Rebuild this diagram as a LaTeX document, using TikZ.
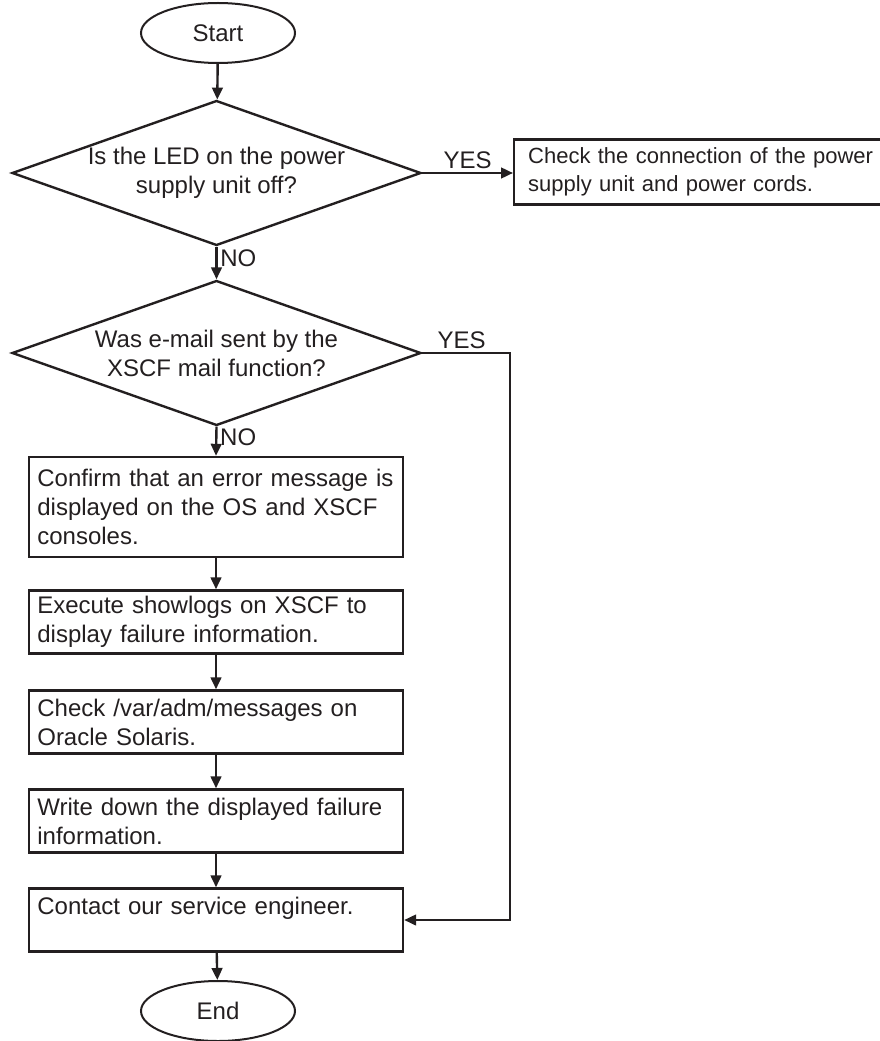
\documentclass[tikz,border=0pt]{standalone}
\usepackage{fontspec}
\setmainfont{Liberation Sans}
\usetikzlibrary{arrows.meta,shapes.geometric}
\definecolor{fcink}{HTML}{231F20}
\tikzset{
  >={Triangle[length=9pt,width=8pt]},
  ftext/.style={font=\fontsize{18}{21.75}\selectfont,text=fcink},
  fterm/.style={ellipse,draw=fcink,line width=1.5pt,ftext,
    minimum width=115.5pt,minimum height=45pt,inner sep=0pt},
  fdecide/.style={diamond,aspect=2.8,draw=fcink,line width=1.8pt,ftext,align=center,
    minimum width=306.75pt,minimum height=108.75pt,inner sep=0pt},
  fbox/.style={rectangle,draw=fcink,line width=1.8pt,ftext,align=left,
    text width=268pt,inner xsep=6.25pt,minimum height=47.25pt},
  flabel/.style={ftext,inner sep=2pt},
  fline/.style={->,draw=fcink,line width=1.8pt}
}

\begin{document}
\begin{tikzpicture}[x=.75pt,y=-.75pt]
  \useasboundingbox (0,0) rectangle (880,1041);

  \node[fterm] (start) at (218,33) {Start};
  \node[fdecide] (ledq) at (216.5,173)
    {Is the LED on the power\\supply unit off?};
  % runs off past the right margin
  \node[fbox,font=\fontsize{16.5}{21}\selectfont,text width=270pt,inner xsep=10.5pt,
        minimum height=48.75pt,anchor=west] (check) at (513,172)
    {Check the connection of the power\\supply unit and power cords.};
  \node[fdecide] (mailq) at (216.5,353)
    {Was e-mail sent by the\\XSCF mail function?};

  % main column of steps
  \node[fbox,minimum height=75pt] (confirm) at (216,507)
    {Confirm that an error message is\\displayed on the OS and XSCF\\consoles.};
  \node[fbox] (showlogs) at (216,622)
    {Execute showlogs on XSCF to\\display failure information.};
  \node[fbox] (msgs) at (216,722)
    {Check /var/adm/messages on\\Oracle Solaris.};
  \node[fbox] (writedown) at (216,821)
    {Write down the displayed failure\\information.};
  \node[fbox] (contact) at (216,920)
    {Contact our service engineer.\\\mbox{}};
  \node[fterm] (stop) at (218,1011) {End};

  \draw[fline] (start) -- (ledq);
  \draw[fline] (ledq.east) -- node[flabel,above] {YES} (ledq.east -| check.west);
  \draw[fline] (ledq.south) -- node[flabel,right,pos=.35] {NO} (mailq.north);
  \draw[fline] (mailq.south) -- node[flabel,right,pos=.35] {NO} (confirm.north);
  \draw[fline] (confirm) -- (showlogs);
  \draw[fline] (showlogs) -- (msgs);
  \draw[fline] (msgs) -- (writedown);
  \draw[fline] (writedown) -- (contact);
  \draw[fline] (contact) -- (stop);

  % YES branch skips straight to the engineer
  \coordinate (yesturn) at (510,353);
  \draw[fline] (mailq.east) -- node[flabel,above,pos=.45] {YES} (yesturn) |- (contact.east);
\end{tikzpicture}
\end{document}
